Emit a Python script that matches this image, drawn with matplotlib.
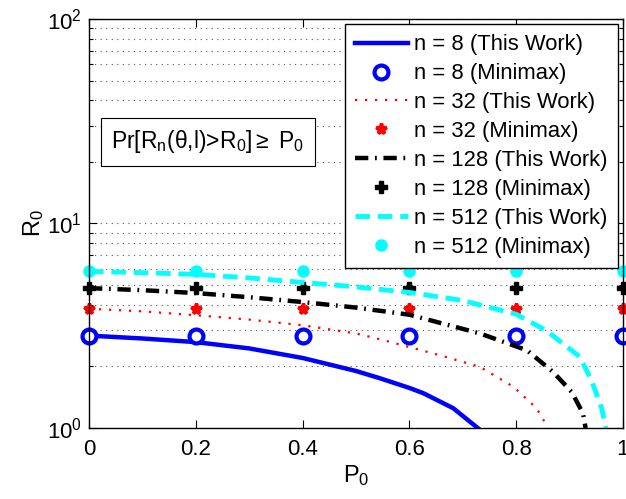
import matplotlib
matplotlib.use("Agg")
import matplotlib.pyplot as plt
from matplotlib.ticker import LogLocator, NullFormatter, FixedLocator

plt.rcParams['font.family'] = ['Liberation Sans', 'DejaVu Sans']
plt.rcParams['mathtext.fontset'] = 'custom'
plt.rcParams['mathtext.rm'] = 'Liberation Sans'
plt.rcParams['mathtext.it'] = 'Liberation Sans'

# ---- data ----
p_minimax = [0.0, 0.2, 0.4, 0.6, 0.8, 1.0]
minimax_8 = [2.83] * 6
minimax_32 = [3.83] * 6
minimax_128 = [4.83] * 6
minimax_512 = [5.83] * 6

p_8 = [0.0, 0.1, 0.2, 0.3, 0.4, 0.5, 0.545, 0.6, 0.626, 0.682, 0.728]
r_8 = [2.83, 2.74, 2.63, 2.45, 2.20, 1.90, 1.75, 1.57, 1.48, 1.25, 1.0]

p_32 = [0.0, 0.1, 0.2, 0.3, 0.4, 0.5, 0.551, 0.657, 0.732, 0.795, 0.838, 0.86]
r_32 = [3.83, 3.72, 3.56, 3.39, 3.18, 2.90, 2.69, 2.27, 1.99, 1.59, 1.25, 1.0]

p_128 = [0.0, 0.1, 0.2, 0.3, 0.4, 0.5, 0.6, 0.732, 0.82, 0.869, 0.904, 0.925, 0.93]
r_128 = [4.83, 4.72, 4.57, 4.36, 4.13, 3.88, 3.58, 2.90, 2.40, 1.88, 1.50, 1.18, 1.0]

p_512 = [0.0, 0.1, 0.2, 0.3, 0.4, 0.5, 0.6, 0.7, 0.8, 0.856, 0.919, 0.941, 0.96, 0.968]
r_512 = [5.83, 5.75, 5.64, 5.42, 5.15, 4.90, 4.60, 4.20, 3.60, 3.00, 2.23, 1.71, 1.25, 1.0]

x_ticks = [0, 0.2, 0.4, 0.6, 0.8, 1]
x_tick_labels = ['0', '0.2', '0.4', '0.6', '0.8', '1']

fig = plt.figure(figsize=(6.26, 4.99), dpi=100)
ax = fig.add_axes([89 / 626, 1 - 428 / 499, (623 - 89) / 626, (428 - 19) / 499])

ax.plot(p_8, r_8, color='blue', lw=3.2, ls='-', label='n = 8 (This Work)')
ax.plot(p_minimax, minimax_8, ls='none', marker='o', ms=10, mew=3, mfc='white',
        mec='blue', label='n = 8 (Minimax)', clip_on=False)
ax.plot(p_32, r_32, color='red', lw=1.6, ls=(0, (1, 3.5)), label='n = 32 (This Work)')
ax.plot(p_minimax, minimax_32, ls='none', marker='*', ms=8, mew=2.5, color='red',
        label='n = 32 (Minimax)', clip_on=False)
ax.plot(p_128, r_128, color='black', lw=3.2, ls=(0, (3, 1.5, 0.4, 1.5)),
        label='n = 128 (This Work)')
ax.plot(p_minimax, minimax_128, ls='none', marker='P', ms=8, color='black',
        label='n = 128 (Minimax)', clip_on=False)
ax.plot(p_512, r_512, color='cyan', lw=3.5, ls=(0, (3, 1.6)), label='n = 512 (This Work)')
ax.plot(p_minimax, minimax_512, ls='none', marker='o', ms=8, color='cyan',
        label='n = 512 (Minimax)', clip_on=False)

ax.set_yscale('log')
ax.set_xlim(0, 1)
ax.set_ylim(1, 100)
ax.xaxis.set_major_locator(FixedLocator(x_ticks))
ax.set_xticklabels(x_tick_labels)
ax.yaxis.set_minor_locator(LogLocator(base=10, subs=range(2, 10), numticks=20))
ax.yaxis.set_minor_formatter(NullFormatter())
ax.set_yticks([1, 10, 100])
ax.set_yticklabels([r'$10^0$', r'$10^1$', r'$10^2$'])

ax.tick_params(which='both', direction='in', top=True, right=True, labelsize=16,
               width=0.8)
ax.tick_params(which='major', length=6)
ax.tick_params(which='minor', length=3)
ax.tick_params(axis='x', pad=8)
ax.tick_params(axis='y', pad=5)
ax.grid(True, axis='y', which='both', ls=(0, (1, 4)), color='#555555', lw=0.8)
for s in ax.spines.values():
    s.set_linewidth(1.0)

ax.set_xlabel(r'P$_0$', fontsize=17, labelpad=2)
ax.set_ylabel(r'R$_0$', fontsize=17, labelpad=1)

ax.text(0.042, 0.70, r'Pr[R$_\mathrm{n}$($\theta$,l)>R$_0$]$\geq$ P$_0$', transform=ax.transAxes,
        fontsize=16.5, ha='left', va='center',
        bbox=dict(boxstyle='square,pad=0.45', fc='white', ec='black', lw=0.8))

leg = ax.legend(loc='upper right', fontsize=15.8, frameon=True, fancybox=False,
                edgecolor='black', framealpha=1, handlelength=2.4, borderaxespad=0.25,
                labelspacing=0.36, handletextpad=0.3, borderpad=0.45)
leg.get_frame().set_linewidth(1.0)

fig.savefig('out.png', dpi=100)
